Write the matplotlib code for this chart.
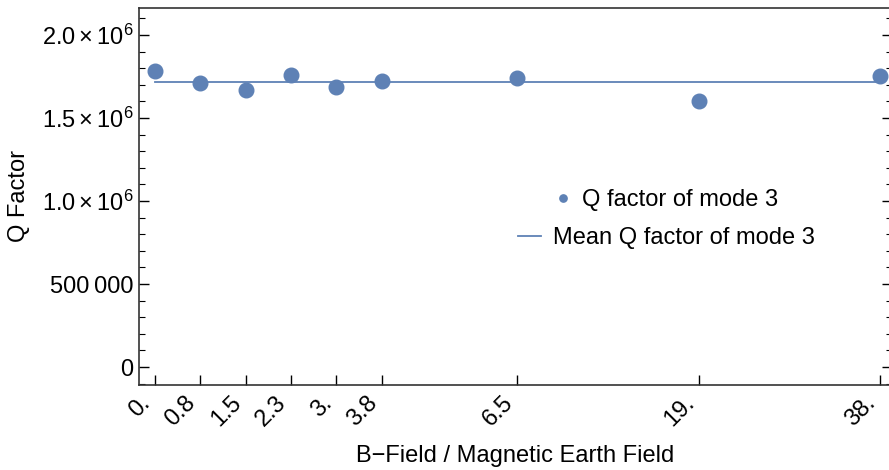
import matplotlib
matplotlib.use("Agg")
import matplotlib.pyplot as plt
from matplotlib.ticker import MultipleLocator

plt.rcParams['font.family'] = ['Liberation Sans', 'DejaVu Sans']
plt.rcParams['mathtext.fontset'] = 'custom'
plt.rcParams['mathtext.rm'] = 'Liberation Sans'
plt.rcParams['mathtext.it'] = 'Liberation Sans'

# coil setting (underlying x) and the field ratio shown as tick labels
coil = [0.0, 0.2, 0.4, 0.6, 0.8, 1.0, 1.6, 2.4, 3.2]
field_labels = ["0.", "0.8", "1.5", "2.3", "3.", "3.8", "6.5", "19.", "38."]
q_factor = [1.783e6, 1.711e6, 1.669e6, 1.759e6, 1.687e6, 1.723e6, 1.741e6, 1.602e6, 1.753e6]
q_mean = sum(q_factor) / len(q_factor)

y_ticks = [0, 500000, 1.0e6, 1.5e6, 2.0e6]
y_ticklabels = ["0", "500\u2009000", r"$1.0\times10^{6}$", r"$1.5\times10^{6}$", r"$2.0\times10^{6}$"]

color = "#5E81B5"
fs = 17

fig = plt.figure(figsize=(8.89, 4.70), dpi=100)
W, H = 889, 470
ax = fig.add_axes([139 / W, 1 - 385 / H, (892 - 139) / W, (385 - 8) / H])

ax.plot(coil, q_factor, "o", color=color, markersize=10.5, label="Q factor of mode 3", zorder=3)
ax.plot([coil[0], coil[-1]], [q_mean, q_mean], "-", color=color, lw=1.3, label="Mean Q factor of mode 3")

ax.set_xlim(-0.0706, 3.2 + (892 - 880) / 226.6)
ax.set_ylim(-0.108e6, 2.163e6)

ax.set_xticks(coil)
ax.set_xticklabels(field_labels, rotation=45, ha="right", va="top", fontsize=fs)
ax.set_yticks(y_ticks)
ax.set_yticklabels(y_ticklabels, fontsize=fs)
ax.yaxis.set_minor_locator(MultipleLocator(100000))

ax.tick_params(axis="x", which="major", direction="in", length=7, width=1, pad=5, top=False)
ax.tick_params(axis="y", which="major", direction="in", length=7, width=1, right=True, pad=4)
ax.tick_params(axis="y", which="minor", direction="in", length=4, width=0.8, right=True)
for s in ax.spines.values():
    s.set_linewidth(1.2)
    s.set_color("#333333")

ax.set_xlabel("B\u2212Field / Magnetic Earth Field", fontsize=fs, labelpad=10)
ax.set_ylabel("Q Factor", fontsize=fs)
ax.yaxis.set_label_coords((30 - 139) / (892 - 139), 0.5)

h, l = ax.get_legend_handles_labels()
leg1 = fig.legend([h[0]], [l[0]], loc="center left", bbox_to_anchor=(552 / W, 1 - 200 / H),
                  frameon=False, fontsize=fs, handlelength=0.9, handletextpad=0.355,
                  borderpad=0, borderaxespad=0, markerscale=0.5)
leg2 = fig.legend([h[1]], [l[1]], loc="center left", bbox_to_anchor=(518 / W, 1 - 238 / H),
                  frameon=False, fontsize=fs, handlelength=0.975, handletextpad=0.51,
                  borderpad=0, borderaxespad=0)

fig.savefig("out.png", dpi=100)
